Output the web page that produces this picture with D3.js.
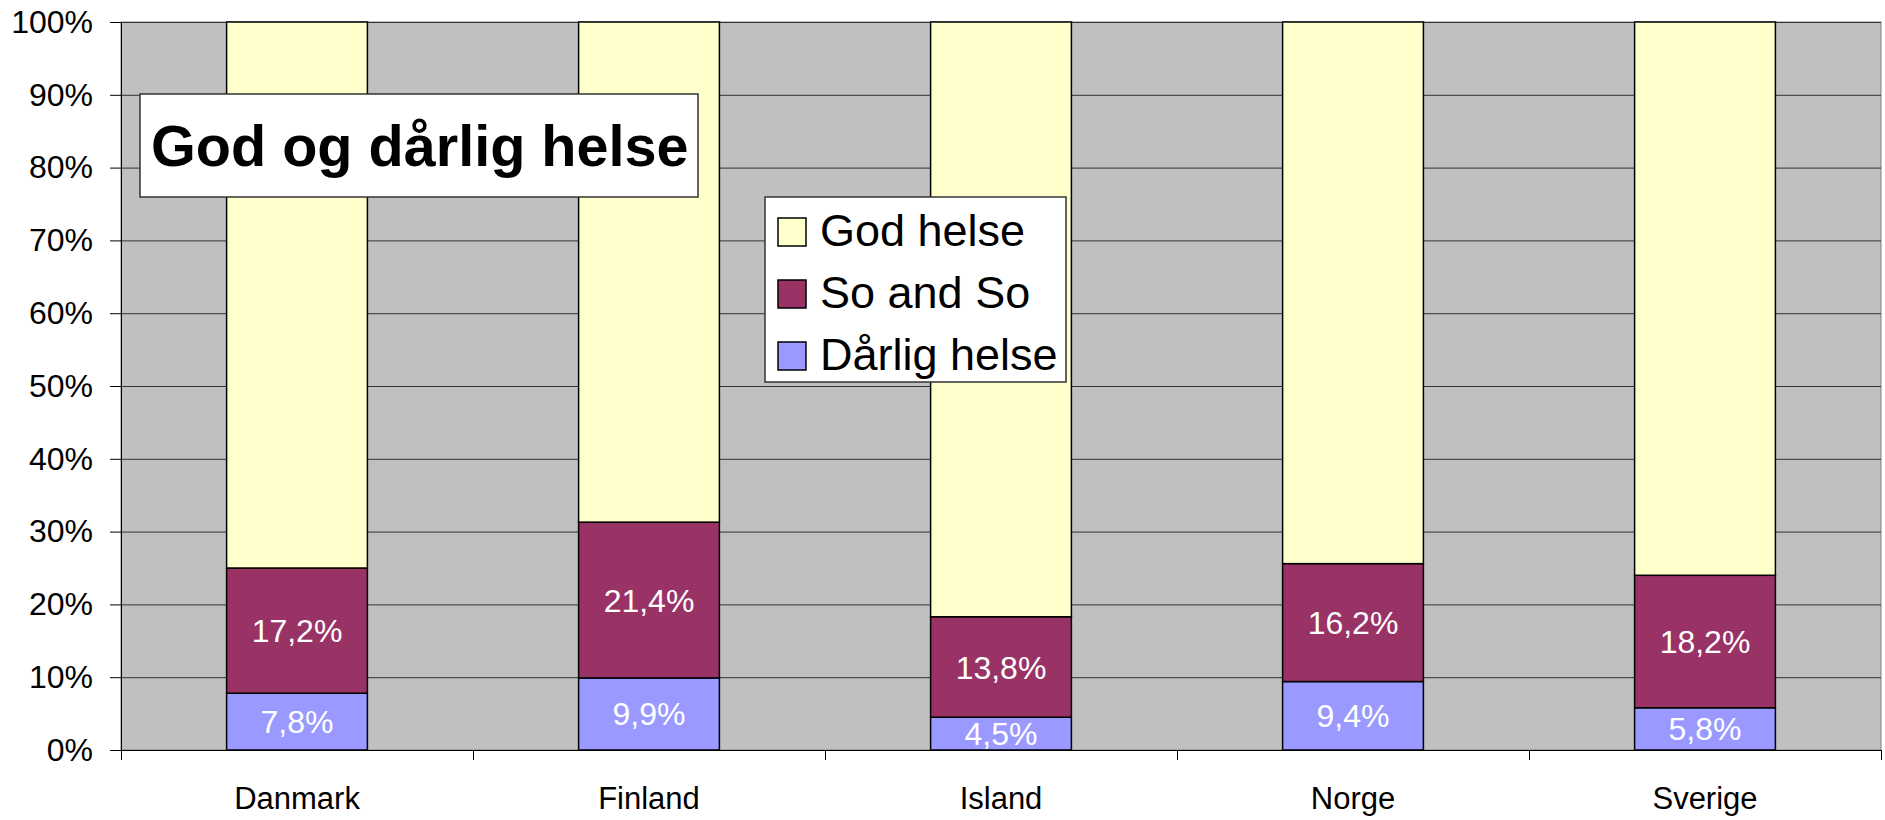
<!DOCTYPE html>
<html>
<head>
<meta charset="utf-8">
<script src="https://cdn.jsdelivr.net/npm/d3@7"></script>
<style>
  body { margin: 0; background: #ffffff; }
  text { font-family: "Liberation Sans", Arial, sans-serif; }
</style>
</head>
<body>
<div id="chart"></div>
<script>
// data (percent)
var countries = ["Danmark", "Finland", "Island", "Norge", "Sverige"];
var darligHelse = [7.8, 9.9, 4.5, 9.4, 5.8];
var soAndSo = [17.2, 21.4, 13.8, 16.2, 18.2];
var godHelse = [75.0, 68.7, 81.7, 74.4, 76.0];
var seriesNames = ["Dårlig helse", "So and So", "God helse"];
var yTicks = [0, 10, 20, 30, 40, 50, 60, 70, 80, 90, 100];
var chartTitle = "God og dårlig helse";

function main() {

    var margin = { top: 22, right: 4, bottom: 70, left: 121 },
        width = 1885 - margin.left - margin.right,
        height = 820 - margin.top - margin.bottom;

    var colors = { "God helse": "#FFFFCC", "So and So": "#993366", "Dårlig helse": "#9999FF" };

    var svg = d3.select("#chart")
        .append("svg")
        .attr("width", 1885)
        .attr("height", 820)
        .append("g")
        .attr("transform", "translate(" + margin.left + "," + margin.top + ")");

    // build rows for stacking
    var rows = countries.map(function (c, i) {
        return { country: c, "Dårlig helse": darligHelse[i], "So and So": soAndSo[i], "God helse": godHelse[i] };
    });
    var stacked = d3.stack().keys(seriesNames)(rows);

    var x = d3.scaleBand()
        .domain(countries)
        .range([0, width])
        .paddingInner(0.6)
        .paddingOuter(0.3);

    var y = d3.scaleLinear()
        .domain([0, 100])
        .range([height, 0]);

    // plot background
    svg.append("rect")
        .attr("width", width)
        .attr("height", height)
        .attr("fill", "#C0C0C0")
        .attr("stroke", "#808080")
        .attr("stroke-width", 1);

    // gridlines
    svg.append("g")
        .selectAll("line")
        .data(yTicks.slice(1))
        .enter()
        .append("line")
        .attr("x1", 0)
        .attr("x2", width)
        .attr("y1", function (d) { return y(d) + 0.5; })
        .attr("y2", function (d) { return y(d) + 0.5; })
        .attr("stroke", "#333")
        .attr("stroke-width", 1);

    // bars
    var layers = svg.append("g")
        .selectAll("g")
        .data(stacked)
        .enter()
        .append("g")
        .attr("fill", function (d) { return colors[d.key]; });

    layers.selectAll("rect")
        .data(function (d) { return d; })
        .enter()
        .append("rect")
        .attr("x", function (d) { return x(d.data.country); })
        .attr("y", function (d) { return y(d[1]); })
        .attr("width", x.bandwidth())
        .attr("height", function (d) { return y(d[0]) - y(d[1]); })
        .attr("stroke", "#000")
        .attr("stroke-width", 1.5);

    // value labels on the two lower series
    stacked.slice(0, 2).forEach(function (layer) {
        svg.append("g")
            .selectAll("text")
            .data(layer)
            .enter()
            .append("text")
            .attr("x", function (d) { return x(d.data.country) + x.bandwidth() / 2; })
            .attr("y", function (d) { return y((d[0] + d[1]) / 2); })
            .attr("dy", "0.36em")
            .attr("text-anchor", "middle")
            .attr("fill", "white")
            .style("font-size", "32px")
            .text(function (d) { return d.data[layer.key].toFixed(1).replace(".", ",") + "%"; });
    });

    // Y axis
    var yAxis = svg.append("g")
        .call(d3.axisLeft(y)
            .tickValues(yTicks)
            .tickSize(11)
            .tickPadding(17)
            .tickFormat(function (d) { return d + "%"; }));
    yAxis.selectAll("text").style("font-size", "32px").attr("fill", "#000");
    yAxis.selectAll("line").attr("stroke", "#000");
    yAxis.select(".domain").attr("stroke", "#000");

    // X axis: ticks between categories
    var xEdges = d3.scaleLinear().domain([0, countries.length]).range([0, width]);
    var xTicks = svg.append("g")
        .attr("transform", "translate(0," + height + ")")
        .call(d3.axisBottom(xEdges).ticks(countries.length).tickSize(10).tickFormat(""));
    xTicks.selectAll("line").attr("stroke", "#000");
    xTicks.select(".domain").attr("stroke", "#000");

    var xLabels = svg.append("g")
        .attr("transform", "translate(0," + height + ")")
        .call(d3.axisBottom(x).tickSize(0).tickPadding(37));
    xLabels.select(".domain").remove();
    xLabels.selectAll("text").style("font-size", "31px").attr("fill", "#000");

    // title box
    var title = svg.append("g").attr("transform", "translate(" + (140 - margin.left) + "," + (94 - margin.top) + ")");
    title.append("rect")
        .attr("width", 558)
        .attr("height", 103)
        .attr("fill", "white")
        .attr("stroke", "#333")
        .attr("stroke-width", 1.5);
    title.append("text")
        .attr("x", 11)
        .attr("y", 72)
        .style("font-size", "57.6px")
        .style("font-weight", "bold")
        .text(chartTitle);

    // legend (top series first)
    var legend = svg.append("g").attr("transform", "translate(" + (765 - margin.left) + "," + (197 - margin.top) + ")");
    legend.append("rect")
        .attr("width", 301)
        .attr("height", 185)
        .attr("fill", "white")
        .attr("stroke", "#333")
        .attr("stroke-width", 1.5);
    var items = legend.selectAll("g")
        .data(seriesNames.slice().reverse())
        .enter()
        .append("g")
        .attr("transform", function (d, i) { return "translate(13," + (21 + i * 62) + ")"; });
    items.append("rect")
        .attr("width", 28)
        .attr("height", 28)
        .attr("fill", function (d) { return colors[d]; })
        .attr("stroke", "#000")
        .attr("stroke-width", 1.5);
    items.append("text")
        .attr("x", 42)
        .attr("y", 28)
        .style("font-size", "45px")
        .text(function (d) { return d; });
}

window.addEventListener('load', main);
</script>
</body>
</html>
